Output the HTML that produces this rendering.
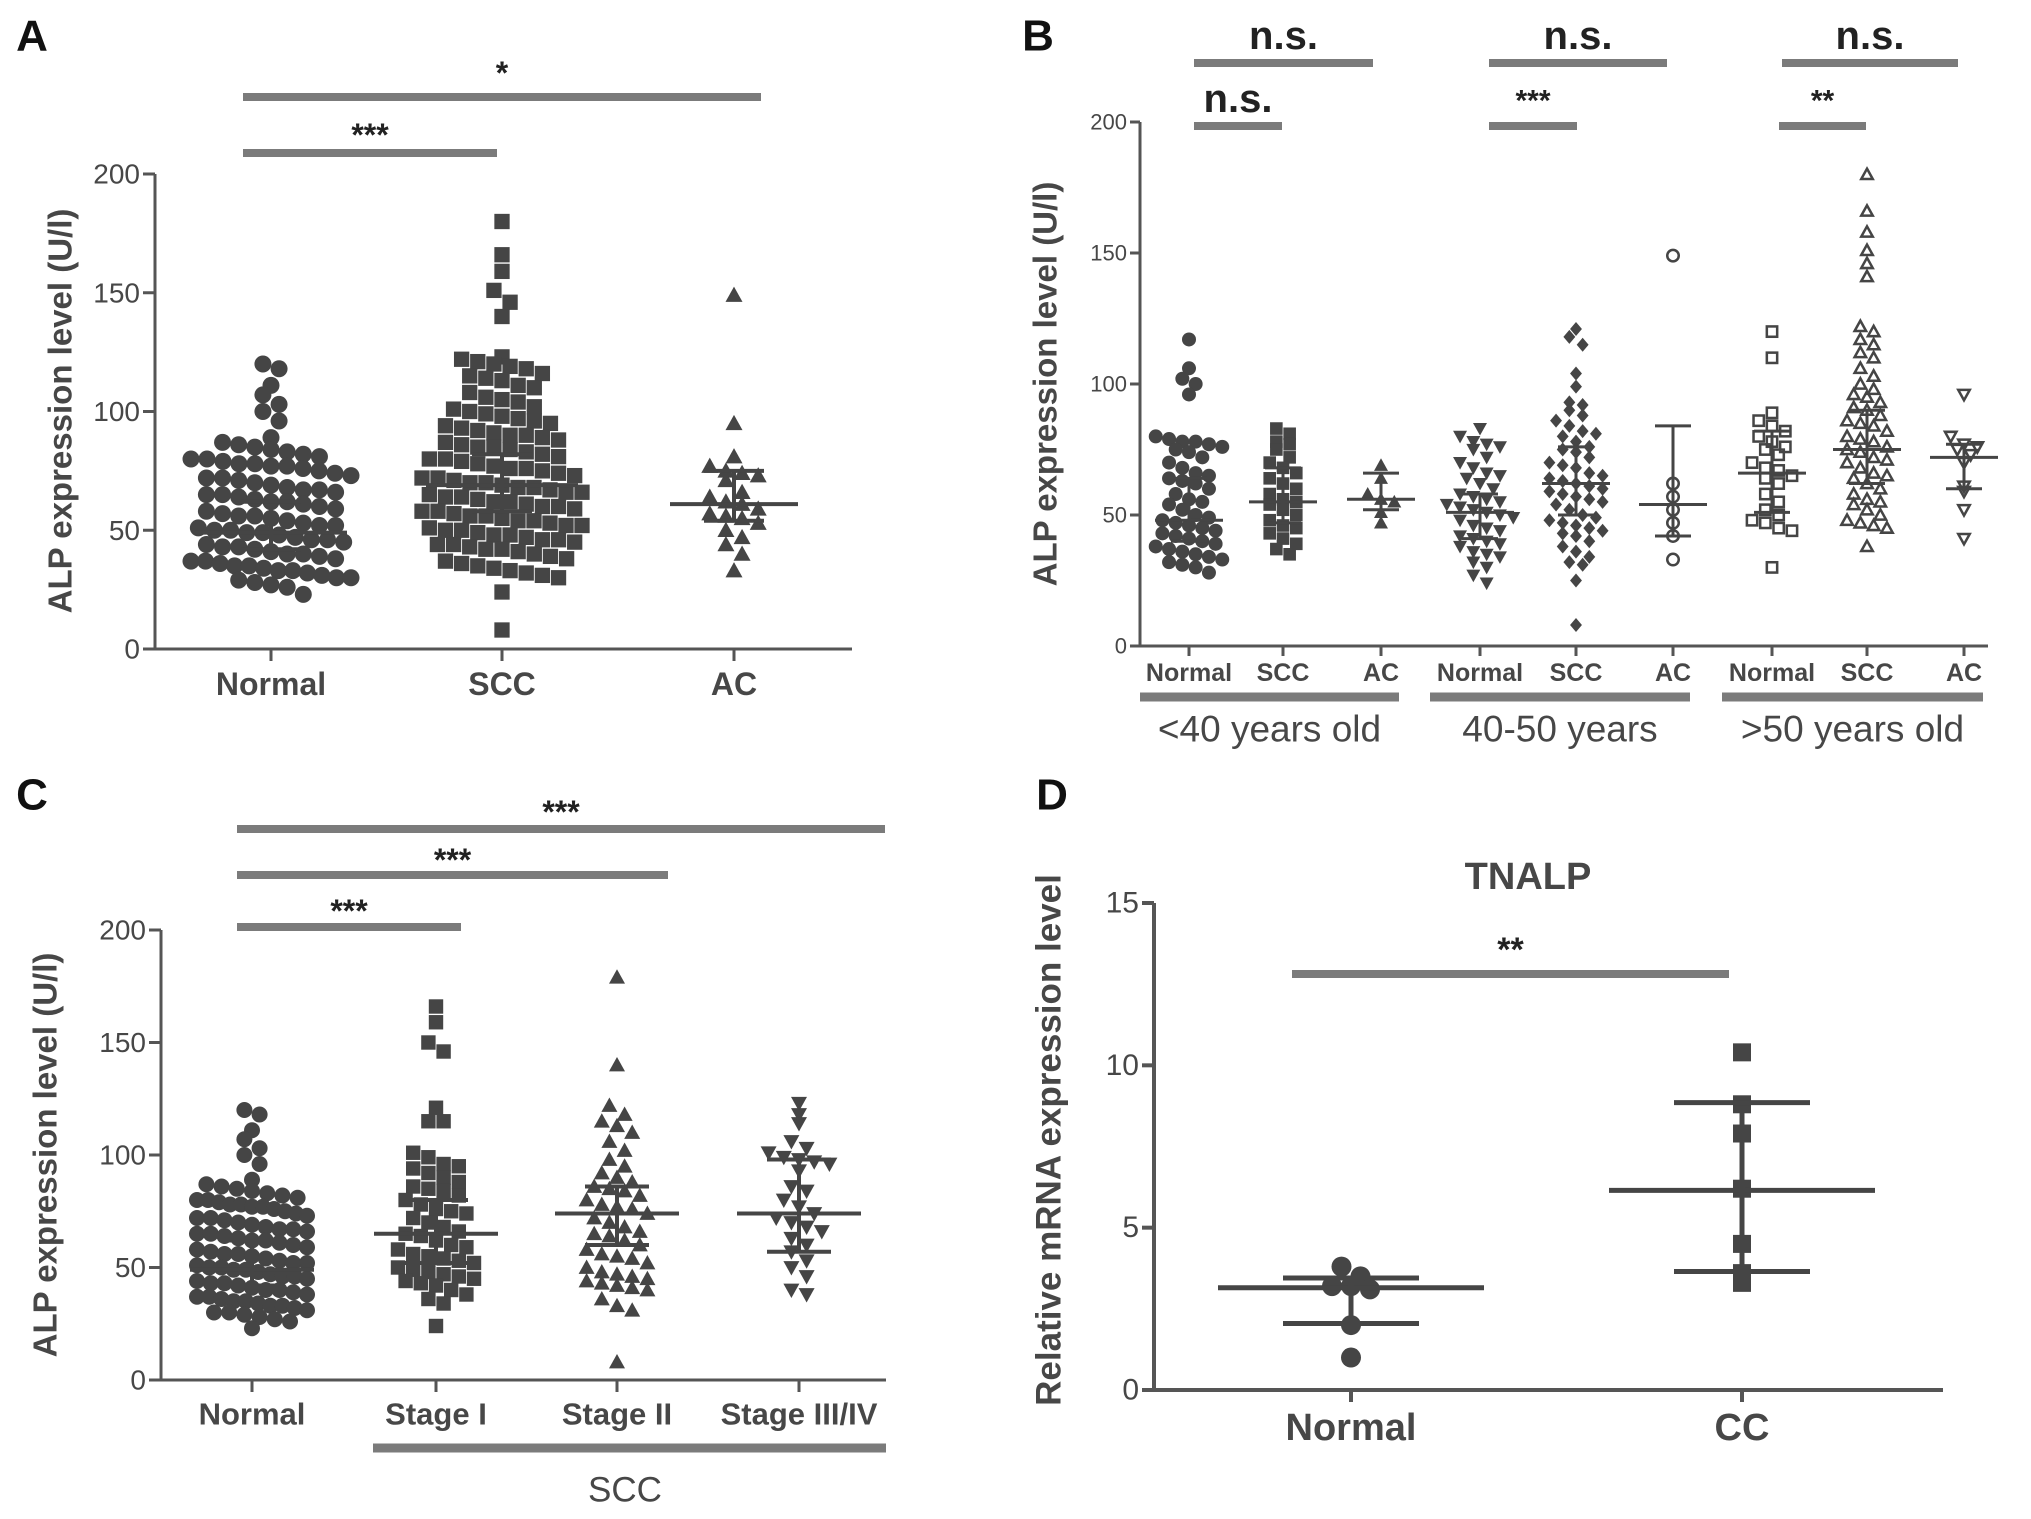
<!DOCTYPE html>
<html><head><meta charset="utf-8">
<style>
html,body{margin:0;padding:0;background:#fff;}
svg{display:block;font-family:"Liberation Sans",Arial,sans-serif;}
</style></head>
<body>
<svg id="fig" width="2031" height="1519" viewBox="0 0 2031 1519"></svg>
<script>
// ---------- Panel A data ----------
const aCats = ["Normal","SCC","AC"];
const aNormal = [120,118,111,107,103,100,96,89,87,86,85,84,83,82,81,80,80,79,78,78,77,77,76,75,74,73,72,72,71,70,69,68,67,67,66,65,65,64,63,62,62,61,60,59,58,57,56,56,55,54,53,52,52,51,50,50,49,49,48,47,46,46,45,44,43,43,42,41,40,40,39,38,37,37,36,35,35,34,33,33,32,31,30,30,29,28,27,26,23];
const aSCC = [180,166,159,151,146,140,123,122,121,120,119,118,116,115,114,113,111,110,108,106,105,104,102,101,100,99,98,97,96,95,94,93,92,91,90,90,89,88,87,86,85,85,84,83,82,81,80,80,79,78,77,76,76,75,74,73,72,72,71,70,70,69,68,68,67,66,66,65,64,64,63,62,62,61,60,60,59,58,58,57,56,56,55,54,54,53,52,52,51,50,50,49,48,48,47,46,46,45,44,44,43,42,42,41,40,39,38,37,36,35,34,33,32,31,30,24,8];
const aAC = [149,95,81,77,75,74,73,71,66,64,62,61,59,57,56,55,53,50,47,44,40,33];
const aMedian = [49,69,61];
const aErrLo = [42,58,54];
const aErrHi = [62,82,75];
const aTicks = [0,50,100,150,200];

// ---------- Panel B data ----------
const bCats = ["Normal","SCC","AC","Normal","SCC","AC","Normal","SCC","AC"];
const bGroups = ["<40 years old","40-50 years",">50 years old"];
const bV0 = [117,106,102,100,96,80,79,78,78,77,76,75,74,72,70,68,66,65,64,63,62,60,58,56,55,54,52,50,49,48,47,46,45,44,43,42,41,40,39,38,37,36,35,34,33,32,31,30,28];
const bV1 = [83,81,78,77,75,72,70,68,66,64,62,60,58,56,55,54,52,50,48,46,45,43,41,39,37,35];
const bV2 = [69,64,58,56,55,51,47];
const bV3 = [83,80,78,77,76,75,72,70,68,66,65,64,62,60,58,57,56,55,54,53,52,51,50,49,48,46,45,44,42,41,40,39,38,36,35,34,32,30,27,24];
const bV4 = [121,118,115,104,99,93,92,90,88,86,84,82,81,80,78,76,75,74,72,70,69,68,66,65,64,63,62,61,60,59,58,57,56,55,54,52,50,49,48,47,46,45,44,43,42,40,38,36,34,32,31,25,8];
const bV5 = [149,62,57,52,47,42,33];
const bV6 = [120,110,89,86,84,82,80,78,76,75,73,70,68,67,65,64,62,58,55,52,50,48,47,45,44,30];
const bV7 = [180,166,158,151,146,141,122,120,117,115,112,110,106,103,100,98,96,95,93,91,90,88,86,85,84,82,80,79,78,76,75,74,72,71,70,68,66,65,64,62,60,58,56,55,54,52,50,48,47,46,45,38];
const bV8 = [96,80,77,76,75,73,70,61,59,52,41];
const bMedian = [48,55,56,51,62,54,66,75,72];
const bErrLo = [40,47,52,41,50,42,51,62,60];
const bErrHi = [64,68,66,58,76,84,82,90,77];
const bTicks = [0,50,100,150,200];

// ---------- Panel C data ----------
const cCats = ["Normal","Stage I","Stage II","Stage III/IV"];
const cNormal = aNormal.slice();
const cStage1 = [166,159,150,146,121,115,115,101,99,96,95,94,92,90,88,86,85,84,82,80,78,76,75,74,72,70,68,66,65,64,62,60,59,58,56,55,54,53,52,50,49,48,47,46,45,44,43,42,40,38,36,34,24];
const cStage2 = [179,140,122,118,115,113,110,106,102,98,95,92,90,88,86,85,84,82,80,78,77,76,74,72,70,68,66,65,64,62,60,58,56,55,54,52,50,48,47,46,45,44,43,42,41,40,36,33,31,8];
const cStage34 = [123,118,114,106,103,101,99,98,97,96,93,86,84,80,77,74,72,70,68,66,63,60,57,53,50,46,40,38];
const cMedian = [49,65,74,74];
const cErrLo = [42,52,60,57];
const cErrHi = [62,80,86,98];
const cTicks = [0,50,100,150,200];

// ---------- Panel D data ----------
const dCats = ["Normal","CC"];
const dNormal = [3.8,3.5,3.2,3.2,3.1,2.0,1.0];
const dCC = [10.4,8.8,7.9,6.2,4.5,3.6,3.3];
const dMedian = [3.15,6.15];
const dErrLo = [2.05,3.65];
const dErrHi = [3.45,8.85];
const dTicks = [0,5,10,15];

const NS = "http://www.w3.org/2000/svg";
const svg = document.getElementById("fig");
const DARK = "#454545", BAR = "#7b7b7b", TXT = "#474747";

function mk(tag, attrs, parent) {
  const e = document.createElementNS(NS, tag);
  for (const k in attrs) e.setAttribute(k, attrs[k]);
  (parent || svg).appendChild(e);
  return e;
}
function txt(x, y, s, size, opts, parent) {
  const t = mk("text", Object.assign({x:x, y:y, "font-size":size, fill:TXT, "text-anchor":"middle", "dominant-baseline":"central"}, opts || {}), parent);
  t.textContent = s;
  return t;
}
function linScale(d0, d1, r0, r1) { return v => r0 + (v - d0) / (d1 - d0) * (r1 - r0); }

function marker(g, shape, filled, cx, cy, d) {
  const r = d / 2;
  const sw = filled ? 0 : Math.max(2.5, d * 0.18);
  const rr = filled ? r : r - sw / 2;
  const style = filled ? {fill:DARK} : {fill:"none", stroke:DARK, "stroke-width":sw};
  let el;
  if (shape === "circle") el = mk("circle", Object.assign({cx:cx, cy:cy, r:rr}, style), g);
  else if (shape === "square") el = mk("rect", Object.assign({x:cx-rr*0.9, y:cy-rr*0.9, width:rr*1.8, height:rr*1.8}, style), g);
  else if (shape === "tri") el = mk("polygon", Object.assign({points:`${cx},${cy-rr} ${cx+rr},${cy+rr*0.8} ${cx-rr},${cy+rr*0.8}`}, style), g);
  else if (shape === "invtri") el = mk("polygon", Object.assign({points:`${cx},${cy+rr} ${cx+rr},${cy-rr*0.8} ${cx-rr},${cy-rr*0.8}`}, style), g);
  else el = mk("polygon", Object.assign({points:`${cx},${cy-rr} ${cx+rr*0.85},${cy} ${cx},${cy+rr} ${cx-rr*0.85},${cy}`}, style), g);
  
  
}

function swarm(g, values, cx, y, d, shape, filled, maxW) {
  const bins = {};
  values.forEach(v => { const py = y(v); const b = Math.floor(py / d); (bins[b] = bins[b] || []).push(py); });
  Object.keys(bins).forEach(b => {
    const arr = bins[b]; const n = arr.length;
    let sp = d * 0.95;
    if (maxW && (n - 1) * sp > maxW) sp = maxW / (n - 1);
    arr.forEach((py, i) => {
      let off = (i - (n - 1) / 2) * sp;
      marker(g, shape, filled, cx + off, py, d);
    });
  });
}

function stats(g, cx, y, med, lo, hi, mw, cw, sw) {
  const l1 = mk("line", {x1:cx-mw, x2:cx+mw, y1:y(med), y2:y(med), stroke:DARK, "stroke-width":sw}, g);
  
  
  const l2 = mk("line", {x1:cx, x2:cx, y1:y(lo), y2:y(hi), stroke:DARK, "stroke-width":sw}, g);
  
  
  [lo, hi].forEach(v => {
    const c = mk("line", {x1:cx-cw, x2:cx+cw, y1:y(v), y2:y(v), stroke:DARK, "stroke-width":sw}, g);
    
    
  });
}

function axes(g, ax, yTop, yBot, xEnd, y, ticks, tickSize, tickLen, catX, catLabels, catY, catSize, sw) {
  const ya = mk("line", {x1:ax, x2:ax, y1:yTop, y2:yBot, stroke:"#555", "stroke-width":sw}, g);
  
  
  const xa = mk("line", {x1:ax, x2:xEnd, y1:yBot, y2:yBot, stroke:"#555", "stroke-width":sw}, g);
  
  
  ticks.forEach(t => {
    mk("line", {x1:ax-tickLen, x2:ax, y1:y(t), y2:y(t), stroke:"#555", "stroke-width":sw}, g);
    const tl = txt(ax - tickLen - 3, y(t), String(t), tickSize, {"text-anchor":"end"}, g);
    
    
  });
  catX.forEach((cx, i) => {
    mk("line", {x1:cx, x2:cx, y1:yBot, y2:yBot+tickLen, stroke:"#555", "stroke-width":sw}, g);
    const cl = txt(cx, catY, catLabels[i], catSize, {"font-weight":"bold"}, g);
    
    
  });
}

function sigBar(g, x1, x2, yb, label, ly, size, sw) {
  const b = mk("line", {x1:x1, x2:x2, y1:yb, y2:yb, stroke:BAR, "stroke-width":sw || 8}, g);
  
  
  const t = txt((x1 + x2) / 2, ly, label, size, {fill:"#222", "font-weight":"bold"}, g);
  
  
}

function panelLetter(x, y, s) {
  const t = txt(x, y, s, 44, {"font-weight":"bold", fill:"#111"});
  
  
}

function yTitle(g, x, yc, s, size) {
  const t = txt(x, yc, s, size, {transform:`rotate(-90 ${x} ${yc})`, "font-weight":"bold"}, g);
  
  
}

// ===== Panel A =====
(function(){
  const g = mk("g", {});  
  const y = linScale(0, 200, 649, 174);
  const xs = [271, 502, 734];
  axes(g, 155, 174, 649, 852, y, aTicks, 28, 12, xs, aCats, 684, 32, 3);
  yTitle(g, 60, 411, "ALP expression level (U/l)", 33);
  const sets = [aNormal, aSCC, aAC], shapes = ["circle","square","tri"];
  sets.forEach((vals, i) => swarm(g, vals, xs[i], y, 17, shapes[i], true, 160));
  sets.forEach((vals, i) => stats(g, xs[i], y, aMedian[i], aErrLo[i], aErrHi[i], i==2?64:76, 30, 4));
  sigBar(g, 243, 761, 97, "*", 73, 32);
  sigBar(g, 243, 497, 153, "***", 135, 32);
})();
panelLetter(32, 36, "A");

// ===== Panel B =====
(function(){
  const g = mk("g", {});  
  const y = linScale(0, 200, 646, 122);
  const xs = [1189,1283,1381,1480,1576,1673,1772,1867,1964];
  axes(g, 1140, 122, 646, 1988, y, bTicks, 22, 10, xs, bCats, 673, 25, 3);
  yTitle(g, 1045, 384, "ALP expression level (U/l)", 33);
  const sets = [bV0,bV1,bV2,bV3,bV4,bV5,bV6,bV7,bV8];
  const shapes = ["circle","square","tri","invtri","diamond","circle","square","tri","invtri"];
  const filled = [true,true,true,true,true,false,false,false,false];
  sets.forEach((vals, i) => swarm(g, vals, xs[i], y, 14, shapes[i], filled[i], 80));
  sets.forEach((vals, i) => stats(g, xs[i], y, bMedian[i], bErrLo[i], bErrHi[i], 34, 18, 3));
  const gx = [[1140,1399],[1430,1690],[1722,1983]];
  gx.forEach((r, i) => {
    const b = mk("line", {x1:r[0], x2:r[1], y1:697, y2:697, stroke:BAR, "stroke-width":9}, g);
     
    const t = txt((r[0]+r[1])/2, 729, bGroups[i], 37, {}, g);
     
  });
  sigBar(g, 1194, 1373, 63, "n.s.", 36, 40);
  sigBar(g, 1489, 1667, 63, "n.s.", 36, 40);
  sigBar(g, 1782, 1958, 63, "n.s.", 36, 40);
  sigBar(g, 1194, 1282, 126, "n.s.", 99, 40);
  sigBar(g, 1489, 1577, 126, "***", 101, 30);
  sigBar(g, 1779, 1866, 126, "**", 101, 30);
})();
panelLetter(1038, 36, "B");

// ===== Panel C =====
(function(){
  const g = mk("g", {});  
  const y = linScale(0, 200, 1380, 930);
  const xs = [252, 436, 617, 799];
  axes(g, 161, 930, 1380, 886, y, cTicks, 28, 12, xs, cCats, 1414, 31, 3);
  yTitle(g, 45, 1155, "ALP expression level (U/l)", 33);
  const sets = [cNormal, cStage1, cStage2, cStage34], shapes = ["circle","square","tri","invtri"];
  sets.forEach((vals, i) => swarm(g, vals, xs[i], y, 16, shapes[i], true, 110));
  sets.forEach((vals, i) => stats(g, xs[i], y, cMedian[i], cErrLo[i], cErrHi[i], 62, 32, 4));
  sigBar(g, 237, 885, 829, "***", 812, 32);
  sigBar(g, 237, 668, 875, "***", 860, 32);
  sigBar(g, 237, 461, 927, "***", 911, 32);
  const b = mk("line", {x1:373, x2:886, y1:1448, y2:1448, stroke:BAR, "stroke-width":9}, g);
   
  const t = txt(625, 1490, "SCC", 35, {}, g);
   
})();
panelLetter(32, 795, "C");

// ===== Panel D =====
(function(){
  const g = mk("g", {});  
  const y = linScale(0, 15, 1390, 903);
  const xs = [1351, 1742];
  axes(g, 1154, 903, 1390, 1943, y, dTicks, 30, 12, xs, dCats, 1428, 38, 4);
  yTitle(g, 1049, 1140, "Relative mRNA expression level", 35);
  const tt = txt(1528, 877, "TNALP", 38, {"font-weight":"bold"}, g);
   
  const sets = [dNormal, dCC], shapes = ["circle","square"];
  sets.forEach((vals, i) => swarm(g, vals, xs[i], y, 20, shapes[i], true, 140));
  sets.forEach((vals, i) => stats(g, xs[i], y, dMedian[i], dErrLo[i], dErrHi[i], 133, 68, 5));
  sigBar(g, 1292, 1729, 974, "**", 950, 34);
})();
panelLetter(1052, 795, "D");
</script>
</body></html>
